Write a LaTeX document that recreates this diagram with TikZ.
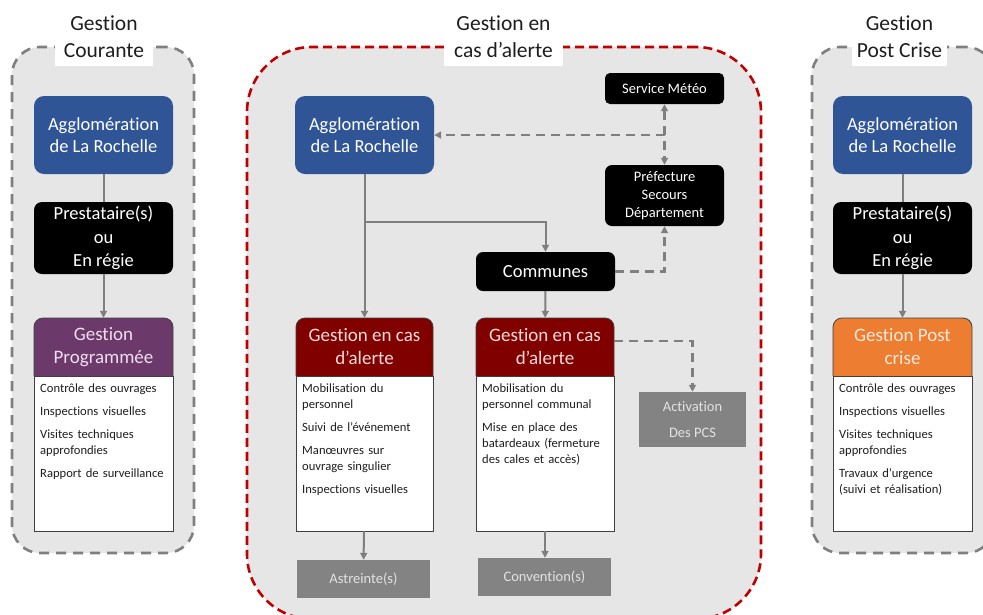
\documentclass[tikz,border=0pt]{standalone}
\usepackage{fontspec}
\setmainfont{Carlito}[Ligatures={NoCommon,NoRare}]
\usetikzlibrary{arrows.meta}
\definecolor{panelgray}{HTML}{E7E6E6}
\definecolor{dashgray}{HTML}{7F7F7F}
\definecolor{alertred}{HTML}{C00000}
\definecolor{aggblue}{HTML}{2F5597}
\definecolor{purplehd}{HTML}{6B3A6B}
\definecolor{redhd}{HTML}{800000}
\definecolor{orangehd}{HTML}{ED7D31}
\definecolor{connector}{HTML}{7F7F7F}
\definecolor{hdpurpletext}{HTML}{F0DDF0}
\definecolor{hdredtext}{HTML}{F6D9D9}
\definecolor{hdorangetext}{HTML}{FDE9DA}
\definecolor{greybox}{HTML}{838383}
\definecolor{greytext}{HTML}{E3E3E3}
\definecolor{cardborder}{HTML}{404040}
\definecolor{darktext}{HTML}{1E1E1E}
\tikzset{
  panelbox/.style={fill=panelgray, line width=2.6pt, dash pattern=on 10pt off 7pt, inner sep=0pt},
  titlebox/.style={fill=white, inner sep=0pt, align=center, text=darktext,
     font=\fontsize{21.5}{27}\selectfont, minimum height=57},
  bluebox/.style={fill=aggblue, rounded corners=10pt, minimum width=139, minimum height=78,
     text=white, align=center, inner sep=0pt, font=\fontsize{18.5}{22}\selectfont},
  blackbox/.style={fill=black, rounded corners=8pt, text=white, align=center, inner sep=0pt},
  greyboxst/.style={fill=greybox, text=greytext, align=center, inner sep=0pt, font=\fontsize{14.5}{26}\selectfont},
  cardline/.style={draw=cardborder, line width=0.8pt},
  hdtext/.style={align=center, inner sep=0pt, minimum height=58, font=\fontsize{19}{23}\selectfont},
  bodybox/.style={fill=white, draw=cardborder, line width=0.8pt, minimum height=155, inner sep=0pt},
  bodytext/.style={align=left, inner sep=0pt, text width=132, text=darktext, font=\fontsize{12.6}{16}\selectfont},
  conn/.style={draw=connector, line width=2pt},
  dconn/.style={draw=connector, line width=2.4pt, dash pattern=on 9pt off 6pt},
  tip/.style={-{Triangle[length=7pt,width=7pt]}},
  tips/.style={{Triangle[length=7pt,width=7pt]}-{Triangle[length=7pt,width=7pt]}}
}
\newcommand\mycard[7]{%
  \draw[cardline, fill=#4] (#2,376) [rounded corners=9pt] -- (#2,318) -- (#3,318) [sharp corners] -- (#3,376);
  \node[hdtext, text=#5, minimum width={#3-#2}] (#1h) at ({(#2+#3)/2},347) {#6};
  \node[bodybox, minimum width={#3-#2}] (#1b) at ({(#2+#3)/2},453.5) {};
  \node[bodytext, anchor=north west] (#1t) at ({#2+6},384) {#7};
}
\begin{document}
\begin{tikzpicture}[x=1pt,y=-1pt]
\useasboundingbox (0,0) rectangle (983,614);
% panels
\node[panelbox, draw=dashgray, rounded corners=28pt, minimum width=182, minimum height=506] (pL) at (103,300) {};
\node[panelbox, draw=dashgray, rounded corners=28pt, minimum width=182, minimum height=506] (pR) at (903,300) {};
\node[panelbox, draw=alertred, rounded corners=65pt, minimum width=514, minimum height=572, dash pattern=on 9pt off 5pt] (pM) at (504,333) {};
% titles
\node[titlebox, minimum width=98] (tL) at (104,37) {Gestion\\Courante};
\node[titlebox, minimum width=119] (tM) at (503.5,37) {Gestion en\\cas d’alerte};
\node[titlebox, minimum width=95] (tR) at (899.5,37) {Gestion\\Post Crise};
% left column
\node[bluebox] (aL) at (103.5,135) {Agglomération\\de La Rochelle};
\node[blackbox, minimum width=139, minimum height=72, font=\fontsize{18.5}{23.5}\selectfont] (sL) at (103.5,238) {Prestataire(s)\\ou\\En régie};
\mycard{cL}{34}{173}{purplehd}{hdpurpletext}{Gestion\\Programmée}{Contrôle des ouvrages\\[7pt]Inspections visuelles\\[7pt]Visites techniques\\approfondies\\[7pt]Rapport de surveillance}
\draw[conn] (aL) -- (sL);
\draw[conn, tip] (sL) -- (cLh);
% right column
\node[bluebox] (aR) at (902.5,135) {Agglomération\\de La Rochelle};
\node[blackbox, minimum width=139, minimum height=72, font=\fontsize{18.5}{23.5}\selectfont] (sR) at (902.5,238) {Prestataire(s)\\ou\\En régie};
\mycard{cR}{833}{972}{orangehd}{hdorangetext}{Gestion Post\\crise}{Contrôle des ouvrages\\[7pt]Inspections visuelles\\[7pt]Visites techniques\\approfondies\\[7pt]Travaux d’urgence\\(suivi et réalisation)}
\draw[conn] (aR) -- (sR);
\draw[conn, tip] (sR) -- (cRh);
% middle
\node[bluebox] (aM) at (364.5,135) {Agglomération\\de La Rochelle};
\node[blackbox, rounded corners=5pt, minimum width=119, minimum height=31, font=\fontsize{14.5}{17}\selectfont] (meteo) at (664.5,88.5) {Service Météo};
\node[blackbox, rounded corners=7pt, minimum width=119, minimum height=61, font=\fontsize{14.5}{18}\selectfont] (pref) at (664.5,195.5) {Préfecture\\Secours\\Département};
\node[blackbox, rounded corners=7pt, minimum width=139, minimum height=39, font=\fontsize{18.5}{20}\selectfont] (com) at (545.5,271.5) {Communes};
\mycard{cA}{296}{433}{redhd}{hdredtext}{Gestion en cas\\d’alerte}{Mobilisation du\\personnel\\[7pt]Suivi de l’événement\\[7pt]Manœuvres sur\\ouvrage singulier\\[7pt]Inspections visuelles}
\mycard{cB}{476}{614}{redhd}{hdredtext}{Gestion en cas\\d’alerte}{Mobilisation du\\personnel communal\\[7pt]Mise en place des\\batardeaux (fermeture\\des cales et accès)}
\node[greyboxst, minimum width=107, minimum height=55] (act) at (692.5,419.5) {Activation\\Des PCS};
\node[greyboxst, minimum width=133, minimum height=38] (ast) at (363.5,579) {Astreinte(s)};
\node[greyboxst, minimum width=133, minimum height=38] (conv) at (544.5,577) {Convention(s)};
% connectors middle
\coordinate (jM) at (meteo.south |- aM.east);
\coordinate (bM) at (aM.south |- 0,222);
\coordinate (hB) at (cBh.east |- 0,341);
\draw[dconn, tips] (meteo) -- (pref);
\draw[dconn, tip] (jM) -- (aM.east);
\draw[dconn, tip] (com.east) -| (pref.south);
\draw[conn, tip] (aM) -- (cAh);
\draw[conn, tip] (bM) -| (com.north);
\draw[conn, tip] (com) -- (cBh);
\draw[dconn, tip] (hB) -| (act.north);
\draw[conn, tip] (cAb) -- (ast);
\draw[conn, tip] (cBb.south) -- (cBb.south |- conv.north);
\end{tikzpicture}
\end{document}
